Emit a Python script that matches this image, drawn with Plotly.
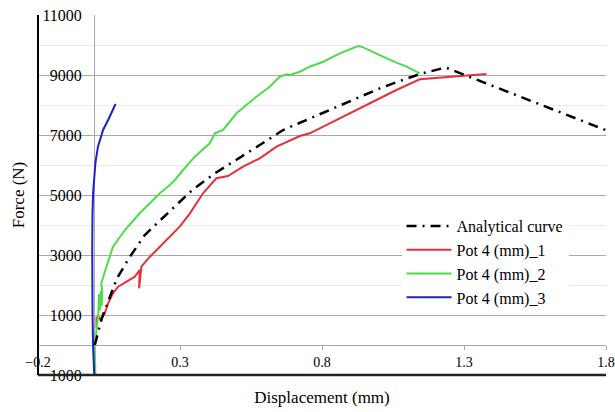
import plotly.graph_objects as go

# ---- data ----
analytical_x = [0, 0.025, 0.053, 0.077, 0.123, 0.176, 0.239, 0.289, 0.346, 0.423, 0.499, 0.581,
                0.663, 0.757, 0.839, 0.921, 1.004, 1.074, 1.144, 1.235, 1.309, 1.414, 1.8]
analytical_y = [0, 900, 1600, 2200, 2933, 3667, 4233, 4667, 5190, 5723, 6167, 6667,
                7167, 7557, 7890, 8223, 8557, 8800, 9030, 9250, 8977, 8580, 7160]

pot1_x = [0.006, 0.006, 0.016, 0.02, 0.035, 0.047, 0.064, 0.082, 0.112, 0.141, 0.158, 0.156, 0.164,
          0.194, 0.229, 0.264, 0.299, 0.335, 0.381, 0.428, 0.469, 0.522, 0.581, 0.640, 0.722,
          0.757, 0.827, 0.921, 0.992, 1.062, 1.144, 1.25, 1.309, 1.379]
pot1_y = [567, 920, 920, 820, 1057, 1390, 1723, 1943, 2110, 2277, 2500, 1890, 2610,
          2943, 3277, 3610, 3943, 4390, 5057, 5557, 5633, 5943, 6223, 6610, 6967,
          7057, 7390, 7833, 8167, 8500, 8857, 8943, 9000, 9033]

pot2_x = [0.002, 0.0, 0.007, 0.012, 0.015, 0.018, 0.022, 0.024, 0.026, 0.023, 0.041, 0.064, 0.106,
          0.158, 0.194, 0.229, 0.264, 0.282, 0.311, 0.352, 0.405, 0.423, 0.452, 0.499, 0.569,
          0.616, 0.651, 0.675, 0.687, 0.722, 0.757, 0.804, 0.863, 0.898, 0.927, 0.939, 0.968,
          1.015, 1.062, 1.098, 1.144]
pot2_y = [-1000, -56, 611, 1000, 1700, 1150, 1800, 1300, 1750, 2057, 2610, 3277, 3833,
          4390, 4723, 5057, 5333, 5500, 5833, 6277, 6723, 7057, 7167, 7723, 8277,
          8610, 8943, 9023, 9000, 9110, 9277, 9443, 9723, 9857, 9967, 9943, 9810,
          9610, 9410, 9277, 9057]

pot3_x = [-0.002, -0.006, -0.008, -0.009, -0.009, -0.008, -0.006, 0.002, 0.011, 0.022, 0.029, 0.047, 0.073]
pot3_y = [-1000, -56, 1057, 2167, 3277, 4390, 5057, 6057, 6610, 6943, 7167, 7500, 8033]

x_ticks = [-0.2, 0.3, 0.8, 1.3, 1.8]
y_ticks = [-1000, 1000, 3000, 5000, 7000, 9000, 11000]
y_minor = [0, 2000, 4000, 6000, 8000, 10000]

FONT = "Liberation Serif"

fig = go.Figure()
fig.add_trace(go.Scatter(x=pot1_x, y=pot1_y, mode="lines", name="Pot 4 (mm)_1",
                         line=dict(color="#e5313d", width=2), legendrank=2))
fig.add_trace(go.Scatter(x=pot2_x, y=pot2_y, mode="lines", name="Pot 4 (mm)_2",
                         line=dict(color="#4fdc4a", width=2), legendrank=3))
fig.add_trace(go.Scatter(x=pot3_x, y=pot3_y, mode="lines", name="Pot 4 (mm)_3",
                         line=dict(color="#2020c8", width=2), legendrank=4))
fig.add_trace(go.Scatter(x=analytical_x, y=analytical_y, mode="lines", name="Analytical curve",
                         line=dict(color="black", width=2.5, dash="10px,6px,2px,6px"), legendrank=1))

fig.update_layout(
    width=615, height=412,
    margin=dict(l=38, r=9, t=15, b=37),
    paper_bgcolor="white", plot_bgcolor="white",
    font=dict(family=FONT, size=16, color="black"),
    showlegend=True,
    legend=dict(x=0.64, y=0.461, xanchor="left", yanchor="top", bgcolor="white",
                font=dict(family=FONT, size=16), tracegroupgap=0, traceorder="normal",
                itemwidth=45),
    xaxis=dict(range=[-0.2, 1.8], tickvals=x_ticks, ticktext=[f"{v:.1f}".replace("-", "\u2212") for v in x_ticks],
               showgrid=False, zeroline=True, zerolinecolor="#a8a8a8", zerolinewidth=1,
               anchor="free", position=1000 / 12000, ticks="outside", ticklen=4, tickcolor="#a8a8a8",
               showline=False, tickfont=dict(family=FONT, size=14), automargin=False,
               ticklabeloverflow="allow",
               title=dict(text="Displacement (mm)", font=dict(family=FONT, size=17), standoff=22)),
    yaxis=dict(range=[-1000, 11000], tickvals=y_ticks, showgrid=True, gridcolor="#a8a8a8", gridwidth=1,
               zeroline=True, zerolinecolor="#a8a8a8", zerolinewidth=1,
               anchor="free", position=0.1, ticks="", ticklabelstandoff=13,
               minor=dict(tickvals=y_minor, showgrid=True, gridcolor="#ebebeb"),
               tickformat="d", ticklabeloverflow="allow",
               tickfont=dict(family=FONT, size=16), automargin=False,
               title=dict(text="Force (N)", font=dict(family=FONT, size=17), standoff=10)),
    shapes=[
        dict(type="line", xref="paper", yref="paper", x0=0, x1=0, y0=0, y1=1,
             line=dict(color="black", width=2)),
        dict(type="line", xref="paper", yref="paper", x0=0, x1=1, y0=0, y1=0,
             line=dict(color="#222222", width=2.5)),
    ],
)

fig.write_html("out.html", config={"displayModeBar": False},
               post_script="document.body.style.margin='0';document.body.style.overflow='hidden';")
